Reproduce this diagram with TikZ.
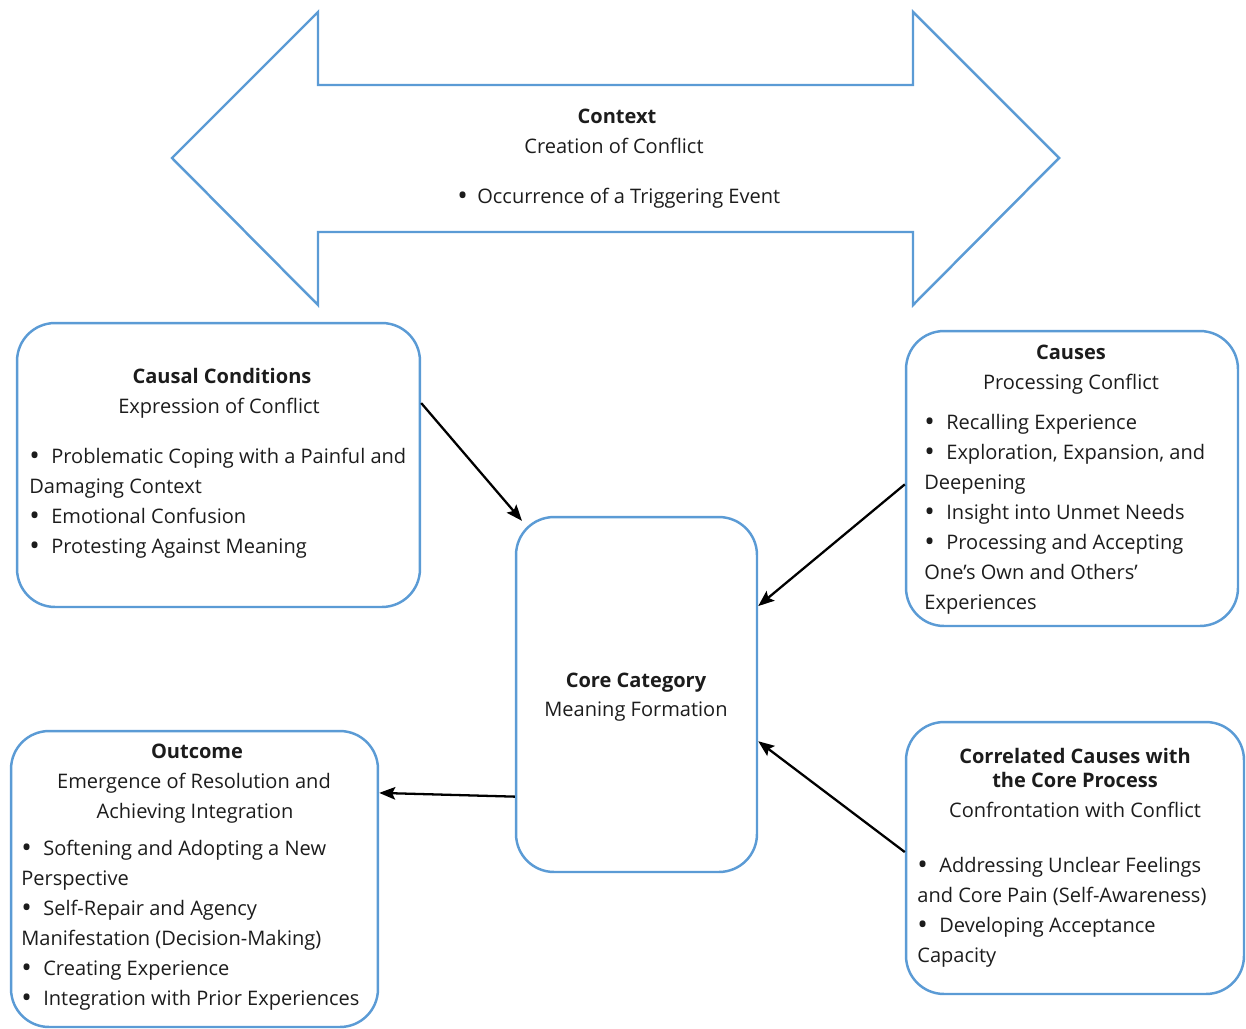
\documentclass[tikz,border=0pt]{standalone}
\usepackage{fontspec}
\setmainfont{Open Sans}
\usetikzlibrary{arrows.meta}
\definecolor{boxblue}{HTML}{5B9BD5}
\definecolor{ink}{HTML}{1C1C1C}
\newcommand{\itmdot}{\makebox[0.44cm][l]{\raisebox{-0.2ex}{\scalebox{1.4}{\textbullet}}}}
\tikzset{
  box/.style={draw=boxblue, line width=1.4pt, rounded corners=0.76cm, inner sep=0pt},
  hd/.style={font=\fontsize{11.4pt}{13pt}\selectfont\bfseries, anchor=mid, inner sep=0pt, text=ink, yshift=-0.05cm},
  txt/.style={anchor=mid, inner sep=0pt, text=ink, yshift=-0.05cm},
  itm/.style={anchor=mid west, inner sep=0pt, text=ink, yshift=-0.05cm},
  link/.style={line width=1.3pt, -{Stealth[length=0.32cm,width=0.25cm,inset=0.06cm]}}
}
\begin{document}
\begin{tikzpicture}[x=0.02cm, y=-0.02cm, font=\fontsize{11.4pt}{13pt}\selectfont]
			\useasboundingbox (0, 0) rectangle (1246, 1028);

			%%draw the context arrow
			\draw[draw=boxblue, line width=1.4pt, line join=miter]
				(172, 158) -- (318, 12) -- (318, 85) -- (913, 85) -- (913, 12) -- (1059, 158)
				-- (913, 305) -- (913, 232) -- (318, 232) -- (318, 305) -- cycle;
				\node[hd] (ctx1) at (617, 116){Context};
				\node[txt] (ctx2) at (614, 146){Creation of Conflict};
				\node[itm] (ctx3) at (457, 196){\makebox[0.4cm][l]{\raisebox{-0.2ex}{\scalebox{1.4}{\textbullet}}}Occurrence of a Triggering Event};

			%%draw the boxes
			\node[box, minimum width=8.06cm, minimum height=5.68cm] (causal) at (218.5, 465){};
			\node[box, minimum width=4.82cm, minimum height=7.1cm] (core) at (636.5, 694.5){};
			\node[box, minimum width=6.64cm, minimum height=5.9cm] (causes) at (1072, 478.5){};
			\node[box, minimum width=7.34cm, minimum height=5.92cm] (outcome) at (194.5, 879){};
			\node[box, minimum width=6.76cm, minimum height=5.44cm] (corr) at (1075, 858){};

			%%causal conditions
			\node[hd] (causal1) at (222, 376){Causal Conditions};
			\node[txt] (causal2) at (219, 406){Expression of Conflict};
			\node[itm] (causal3) at (29, 456){\itmdot Problematic Coping with a Painful and};
			\node[itm] (causal4) at (29, 486){Damaging Context};
			\node[itm] (causal5) at (29, 516){\itmdot Emotional Confusion};
			\node[itm] (causal6) at (29, 546){\itmdot Protesting Against Meaning};

			%%core category
			\node[hd] (core1) at (636, 680){Core Category};
			\node[txt] (core2) at (636, 709){Meaning Formation};

			%%causes
			\node[hd] (causes1) at (1071, 352){Causes};
			\node[txt] (causes2) at (1071, 382){Processing Conflict};
			\node[itm] (causes3) at (924, 422){\itmdot Recalling Experience};
			\node[itm] (causes4) at (924, 452){\itmdot Exploration, Expansion, and};
			\node[itm] (causes5) at (924, 482){Deepening};
			\node[itm] (causes6) at (924, 512){\itmdot Insight into Unmet Needs};
			\node[itm] (causes7) at (924, 542){\itmdot Processing and Accepting};
			\node[itm] (causes8) at (924, 572){One’s Own and Others’};
			\node[itm] (causes9) at (924, 602){Experiences};

			%%outcome
			\node[hd] (out1) at (197, 751){Outcome};
			\node[txt] (out2) at (194, 781){Emergence of Resolution and};
			\node[txt] (out3) at (195, 811){Achieving Integration};
			\node[itm] (out4) at (21, 848){\itmdot Softening and Adopting a New};
			\node[itm] (out5) at (21, 878){Perspective};
			\node[itm] (out6) at (21, 908){\itmdot Self-Repair and Agency};
			\node[itm] (out7) at (21, 938){Manifestation (Decision-Making)};
			\node[itm] (out8) at (21, 968){\itmdot Creating Experience};
			\node[itm] (out9) at (21, 998){\itmdot Integration with Prior Experiences};

			%%correlated causes
			\node[hd] (corr1) at (1075, 756){Correlated Causes with};
			\node[hd] (corr2) at (1075, 780){the Core Process};
			\node[txt] (corr3) at (1075, 810){Confrontation with Conflict};
			\node[itm] (corr4) at (917, 865){\itmdot Addressing Unclear Feelings};
			\node[itm] (corr5) at (917, 895){and Core Pain (Self-Awareness)};
			\node[itm] (corr6) at (917, 925){\itmdot Developing Acceptance};
			\node[itm] (corr7) at (917, 955){Capacity};

			%%draw the arrows
			\draw[link] (causal.17) -- ([shift={(6, 5)}]core.124);
			\draw[link] (causes.182) -- (core.36);
			\draw[link] (corr.178) -- (core.-21.5);
			\draw[link] (core.220) -- (outcome.25);
		\end{tikzpicture}
\end{document}
